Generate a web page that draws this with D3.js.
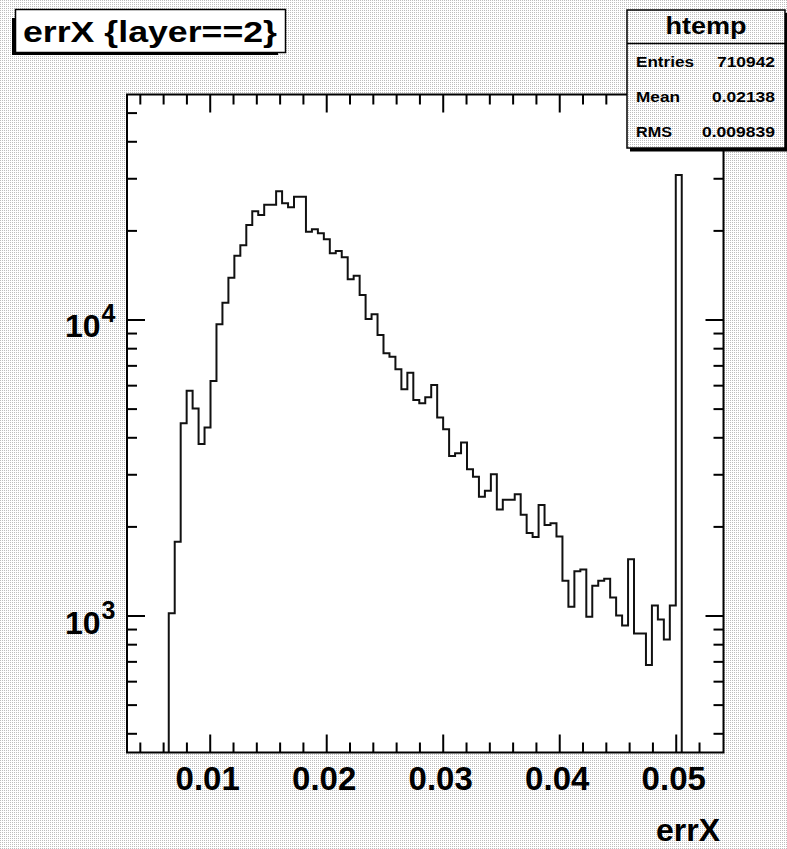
<!DOCTYPE html>
<html lang="en">
<head>
<meta charset="utf-8">
<style>
  body { margin: 0; background: white; }
  svg { font-family: "Liberation Sans", Arial, Helvetica, sans-serif; font-weight: bold; }
  .axis path, .axis line { stroke: #000; stroke-width: 2px; }
  .hist { fill: none; stroke: #111; stroke-width: 2px; }
</style>
</head>
<body>
<svg width="787" height="849"></svg>
<script src="https://d3js.org/d3.v7.min.js"></script>
<script>
// histogram definition (TTree::Draw htemp)
var xMin = 0.0029, xMax = 0.0541, nBins = 100;
var firstBin = 7;
// bin contents from bin 7 to bin 92 (all others empty)
var counts = [1017, 1776, 4460, 5750, 5000, 3800, 4320, 6200, 9630, 11400,
  13840, 16430, 17810, 20850, 23200, 22540, 24430, 24430, 27100, 24700,
  23940, 26000, 26000, 19800, 20170, 19550, 18660, 16740, 17040, 16220,
  13670, 14060, 12100, 10040, 10410, 8870, 7690, 7490, 6790, 5810,
  6610, 5350, 5210, 5460, 6010, 4670, 4260, 3460, 3530, 3840,
  3120, 2940, 2520, 2640, 3000, 2280, 2460, 2460, 2570, 2190,
  1900, 1840, 2360, 2020, 2050, 1850, 1310, 1070, 1410, 1430,
  990, 1260, 1310, 1330, 1150, 1000, 925, 1550, 870, 870,
  680, 1080, 970, 830, 1080, 30770];

var xMajor = [0.01, 0.02, 0.03, 0.04, 0.05];
var xMinor = [0.004, 0.006, 0.008, 0.012, 0.014, 0.016, 0.018, 0.022, 0.024, 0.026, 0.028,
  0.032, 0.034, 0.036, 0.038, 0.042, 0.044, 0.046, 0.048, 0.052];
var yMajor = [1000, 10000];
var yMinor = [400, 500, 600, 700, 800, 900, 2000, 3000, 4000, 5000, 6000, 7000, 8000, 9000,
  20000, 30000, 40000, 50000];
var yRange = [344.5, 57560];

var statsLabels = ["Entries", "Mean", "RMS"];
var statsValues = ["710942", "0.02138", "0.009839"];

var svg = d3.select("svg");
var W = +svg.attr("width"), H = +svg.attr("height");
var frame = {left: 127, right: 723.5, top: 94.5, bottom: 752.5};

// grey dotted pad background
var defs = svg.append("defs");
var pat = defs.append("pattern").attr("id", "dots")
  .attr("patternUnits", "userSpaceOnUse").attr("width", 2).attr("height", 2);
pat.append("rect").attr("width", 2).attr("height", 2).attr("fill", "#fff");
pat.append("rect").attr("width", 1).attr("height", 1).attr("fill", "#bdbdbd");
svg.append("rect").attr("width", W).attr("height", H).attr("fill", "url(#dots)");

defs.append("clipPath").attr("id", "clip").append("rect")
  .attr("x", frame.left).attr("y", frame.top)
  .attr("width", frame.right - frame.left).attr("height", frame.bottom - frame.top);

svg.append("rect")
  .attr("x", frame.left).attr("y", frame.top)
  .attr("width", frame.right - frame.left).attr("height", frame.bottom - frame.top)
  .attr("fill", "#fff");

var x = d3.scaleLinear().domain([xMin, xMax]).range([frame.left, frame.right]);
var y = d3.scaleLog().domain(yRange).range([frame.bottom, frame.top]);
var bw = (xMax - xMin) / nBins;

// histogram outline
var pts = [[xMin + firstBin * bw, yRange[0]]];
counts.forEach(function(c, i) {
  var lo = xMin + (firstBin + i) * bw;
  pts.push([lo, c], [lo + bw, c]);
});
pts.push([xMin + (firstBin + counts.length) * bw, yRange[0]]);

svg.append("path")
  .attr("class", "hist")
  .attr("clip-path", "url(#clip)")
  .attr("d", d3.line().x(d => x(d[0])).y(d => y(d[1]))(pts));

// axes, ticks pointing into the frame
function ax(gen, tx, ty, vals, len) {
  svg.append("g").attr("class", "axis")
    .attr("transform", "translate(" + tx + "," + ty + ")")
    .call(gen.tickValues(vals).tickSize(-len).tickSizeOuter(0).tickFormat(""))
    .call(g => g.select(".domain").remove());
}
ax(d3.axisBottom(x), 0, frame.bottom, xMinor, 10);
ax(d3.axisBottom(x), 0, frame.bottom, xMajor, 18);
ax(d3.axisTop(x), 0, frame.top, xMinor, 10);
ax(d3.axisTop(x), 0, frame.top, xMajor, 18);
ax(d3.axisLeft(y), frame.left, 0, yMinor, 10);
ax(d3.axisLeft(y), frame.left, 0, yMajor, 18);
ax(d3.axisRight(y), frame.right, 0, yMinor, 10);
ax(d3.axisRight(y), frame.right, 0, yMajor, 18);

svg.append("rect")
  .attr("x", frame.left).attr("y", frame.top)
  .attr("width", frame.right - frame.left).attr("height", frame.bottom - frame.top)
  .attr("fill", "none").attr("stroke", "#000").attr("stroke-width", 2);

// tick labels
svg.selectAll(".xlab").data(xMajor).enter().append("text")
  .attr("x", d => x(d) - 2).attr("y", 790)
  .attr("text-anchor", "middle").attr("font-size", 33)
  .text(d => d3.format(".2f")(d));

svg.selectAll(".ylab").data(yMajor).enter().append("text")
  .attr("x", 65).attr("y", d => y(d) + 18)
  .attr("font-size", 32)
  .each(function(d) {
    var t = d3.select(this);
    t.append("tspan").text("10");
    t.append("tspan").attr("font-size", 25).attr("dx", 1).attr("dy", -15)
      .text(Math.round(Math.log10(d)));
  });

svg.append("text").attr("x", 720).attr("y", 841)
  .attr("text-anchor", "end").attr("font-size", 32).text("errX");

// title box
svg.append("rect").attr("x", 12).attr("y", 18).attr("width", 266).attr("height", 37).attr("fill", "#000");
svg.append("rect").attr("x", 15.5).attr("y", 9.5).attr("width", 270).attr("height", 43)
  .attr("fill", "#fff").attr("stroke", "#000").attr("stroke-width", 1.5);
svg.append("text").attr("x", 23).attr("y", 41.5).attr("font-size", 29)
  .attr("textLength", 254).attr("lengthAdjust", "spacingAndGlyphs")
  .text("errX {layer==2}");

// stats box
var sb = {x: 627, y: 10, w: 158, h: 138};
svg.append("rect").attr("x", sb.x + 3).attr("y", sb.y + 3).attr("width", sb.w - 1).attr("height", sb.h + 0.5).attr("fill", "#000");
svg.append("rect").attr("x", sb.x).attr("y", sb.y).attr("width", sb.w).attr("height", sb.h)
  .attr("fill", "url(#dots)").attr("stroke", "#000").attr("stroke-width", 1.5);
svg.append("line").attr("x1", sb.x).attr("x2", sb.x + sb.w).attr("y1", 43.5).attr("y2", 43.5)
  .attr("stroke", "#000").attr("stroke-width", 1.5);
svg.append("text").attr("x", 706).attr("y", 33.5).attr("text-anchor", "middle")
  .attr("font-size", 23).attr("textLength", 81).attr("lengthAdjust", "spacingAndGlyphs").text("htemp");

var labW = [58, 44, 36], valW = [58, 63, 73];
statsLabels.forEach(function(l, i) {
  var by = 66.5 + i * 35;
  svg.append("text").attr("x", 636).attr("y", by).attr("font-size", 14)
    .attr("textLength", labW[i]).attr("lengthAdjust", "spacingAndGlyphs").text(l);
  svg.append("text").attr("x", 775 - valW[i]).attr("y", by).attr("font-size", 14)
    .attr("textLength", valW[i]).attr("lengthAdjust", "spacingAndGlyphs").text(statsValues[i]);
});
</script>
</body>
</html>
